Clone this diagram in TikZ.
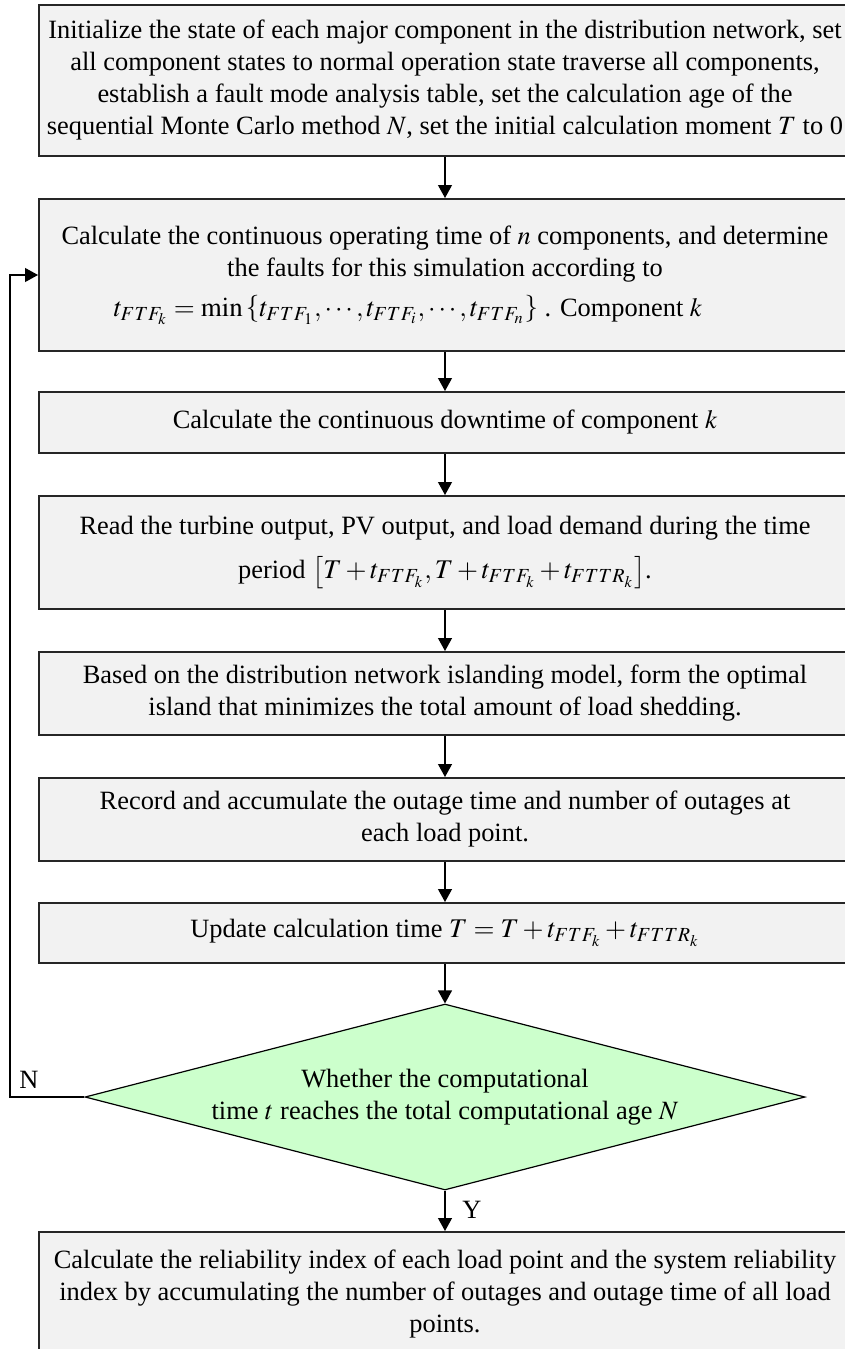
\documentclass[tikz,border=0pt]{standalone}
\usepackage{mathptmx}
\usepackage[no-math]{fontspec}
\setmainfont{Liberation Serif}
\usetikzlibrary{shapes.geometric,arrows.meta}

\newcommand{\eqsz}[1]{{\fontsize{13.5}{16}\selectfont$#1$}}

\tikzset{
  stepbox/.style={draw=black!85,line width=1pt,fill=gray!10,
    minimum width=406pt,inner xsep=1pt,align=center},
  testbox/.style={diamond,draw=black,line width=0.6pt,fill=green!20,
    aspect=3.87,minimum width=360pt,minimum height=93pt,inner sep=0pt,
    align=center},
  flow/.style={-{Triangle[length=6.5pt,width=7pt]},line width=0.6pt}
}

\begin{document}
\begin{tikzpicture}[x=0.5pt,y=-0.5pt,font=\fontsize{13.2}{16}\selectfont]
\clip (0,0) rectangle (845,1349);

\node[stepbox,minimum height=75.5pt] (init) at (445,80.5)
  {Initialize the state of each major component in the distribution network, set\\
   all component states to normal operation state traverse all components,\\
   establish a fault mode analysis table, set the calculation age of the\\
   sequential Monte Carlo method $N$, set the initial calculation moment $T$ to 0};

\node[stepbox,minimum height=76pt] (optime) at (445,275)
  {Calculate the continuous operating time of $n$ components, and determine\\
   the faults for this simulation according to\\[4pt]
   \eqsz{t_{FTF_k}=\min\left\{t_{FTF_1},\cdots,t_{FTF_i},\cdots,t_{FTF_n}\right\}} . Component $k$\hspace*{37pt}};

\node[stepbox,minimum height=30.5pt] (downtime) at (445,422.5)
  {Calculate the continuous downtime of component $k$};

\node[stepbox,minimum height=56.5pt] (readout) at (445,552.5)
  {Read the turbine output, PV output, and load demand during the time\\[6pt]
   period \eqsz{\left[T+t_{FTF_k},T+t_{FTF_k}+t_{FTTR_k}\right]}.};

\node[stepbox,minimum height=41.5pt] (island) at (445,693.5)
  {Based on the distribution network islanding model, form the optimal\\
   island that minimizes the total amount of load shedding.};

\node[stepbox,minimum height=41.5pt] (record) at (445,819.5)
  {Record and accumulate the outage time and number of outages at\\
   each load point.};

\node[stepbox,minimum height=30pt] (update) at (445,933)
  {Update calculation time \eqsz{T=T+t_{FTF_k}+t_{FTTR_k}}};

\node[testbox] (check) at (445,1097)
  {Whether the computational\\
   time $t$ reaches the total computational age $N$};

\node[stepbox,minimum height=62pt] (index) at (445,1294)
  {Calculate the reliability index of each load point and the system reliability\\
   index by accumulating the number of outages and outage time of all load\\
   points.};

\coordinate (back) at (10,1097); % loop corner.

\draw[flow] (init) -- (optime);
\draw[flow] (optime) -- (downtime);
\draw[flow] (downtime) -- (readout);
\draw[flow] (readout) -- (island);
\draw[flow] (island) -- (record);
\draw[flow] (record) -- (update);
\draw[flow] (update) -- (check);
\draw[flow] (check) -- (index);
\draw[flow] (check.west) -- (back) |- (optime.west);

\node (no) at (29,1080) {N};
\node (yes) at (472,1210) {Y};

\end{tikzpicture}
\end{document}
